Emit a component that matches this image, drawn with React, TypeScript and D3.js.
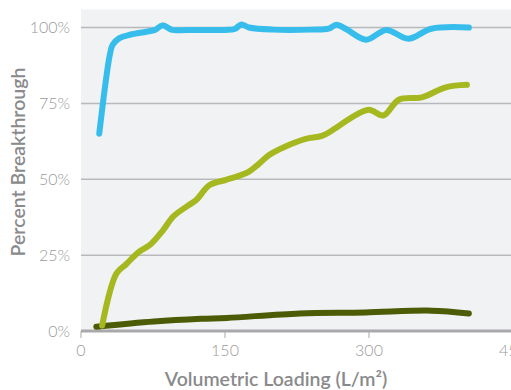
import React from "react";
import * as d3 from "d3";

// Volumetric loading (L/m²) vs. percent breakthrough for three media
const blueX = [19, 30, 33, 40, 51, 68, 77, 85, 95, 110, 150, 160, 167, 175, 200, 240, 258, 266, 276, 297, 318, 341, 365, 404];
const blueY = [65, 91, 94.3, 96.5, 97.6, 98.6, 99.2, 100.7, 99.2, 99.2, 99.2, 99.5, 101, 100, 99.3, 99.3, 99.6, 100.9, 99.5, 96, 99.2, 96.3, 99.6, 100];

const greenX = [22, 37, 47, 60, 72, 85, 96, 110, 120, 134, 151, 165, 175, 185, 196, 213, 234, 251, 265, 280, 300, 315, 331, 355, 380, 402];
const greenY = [1.8, 19, 22, 26, 28.4, 33, 37.7, 41, 43.2, 48.1, 49.8, 51.2, 52.5, 55, 58, 60.8, 63.3, 64.3, 66.8, 70, 72.9, 71, 76.2, 77, 80.3, 81.1];

const darkX = [16, 76, 125, 152, 228, 296, 365, 404];
const darkY = [1.4, 3.1, 4.0, 4.3, 5.8, 6.1, 6.7, 5.8];

const xTicks = [0, 150, 300, 450];
const yTicks = [0, 25, 50, 75, 100];

const W = 511;
const H = 390;

export default function App() {
  const x = d3.scaleLinear().domain([0, 450]).range([81, 513]);
  const y = d3.scaleLinear().domain([0, 100]).range([331, 27.5]);

  const line = d3
    .line<[number, number]>()
    .x((d) => x(d[0]))
    .y((d) => y(d[1]))
    .curve(d3.curveCatmullRom.alpha(0.5));

  const series = [
    { xs: darkX, ys: darkY, color: "#4b5b06" },
    { xs: greenX, ys: greenY, color: "#a5b81f" },
    { xs: blueX, ys: blueY, color: "#37bdec" },
  ];

  const font = "Lato, 'Open Sans', sans-serif";

  return (
    <svg
      width={W}
      height={H}
      style={{ position: "absolute", left: 0, top: 0, background: "#fff" }}
    >
      <rect x={81} y={9.5} width={W - 81} height={331 - 9.5} fill="#f1f2f4" />
      {yTicks
        .filter((t) => t > 0)
        .map((t) => (
          <line key={t} x1={81} x2={W} y1={y(t)} y2={y(t)} stroke="#b9b9bb" strokeWidth={1.5} />
        ))}
      {/* x axis */}
      <line x1={81} x2={W} y1={331} y2={331} stroke="#a9a9ab" strokeWidth={3} />
      {xTicks.map((t) => (
        <line key={t} x1={x(t)} x2={x(t)} y1={331} y2={338} stroke="#a9a9ab" strokeWidth={1} />
      ))}
      {xTicks.map((t) => (
        <text
          key={t}
          x={x(t)}
          y={356}
          textAnchor="middle"
          fontFamily={font}
          fontWeight={300}
          fontSize={16}
          fill="#9a9a9c"
        >
          {t}
        </text>
      ))}
      {yTicks.map((t) => (
        <text
          key={t}
          x={70}
          y={y(t) + 5.5}
          textAnchor="end"
          fontFamily={font}
          fontWeight={300}
          fontSize={16}
          fill="#9a9a9c"
        >
          {t}%
        </text>
      ))}
      {series.map((s, i) => (
        <path
          key={i}
          d={line(s.xs.map((v, j) => [v, s.ys[j]] as [number, number])) || ""}
          fill="none"
          stroke={s.color}
          strokeWidth={6}
          strokeLinecap="round"
          strokeLinejoin="round"
        />
      ))}
      <text
        x={276}
        y={386}
        textAnchor="middle"
        fontFamily={font}
        fontWeight={600}
        fontSize={19.5}
        fill="#8a8a8c"
      >
        Volumetric Loading (L/m²)
      </text>
      <text
        transform="translate(24.5,162) rotate(-90)"
        textAnchor="middle"
        fontFamily={font}
        fontWeight={600}
        fontSize={19.5}
        fill="#8a8a8c"
      >
        Percent Breakthrough
      </text>
    </svg>
  );
}
